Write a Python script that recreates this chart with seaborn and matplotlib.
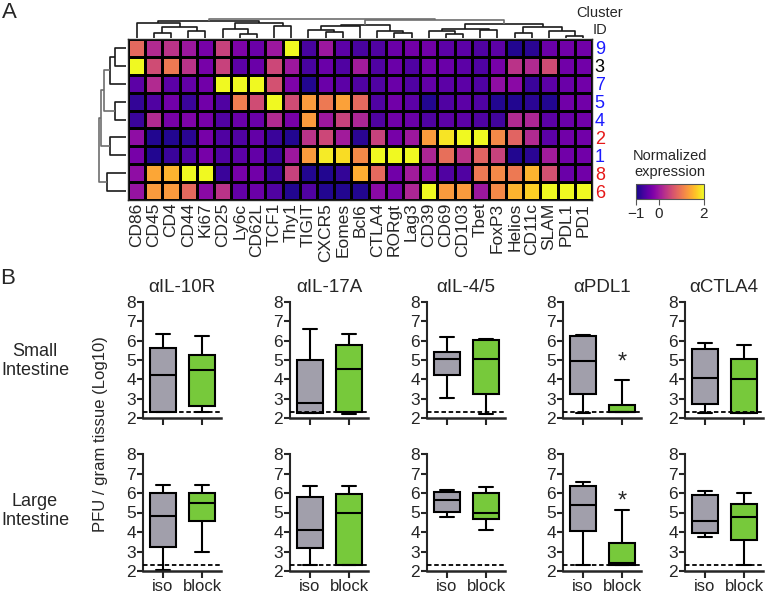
import numpy as np
import pandas as pd
import matplotlib
matplotlib.use("Agg")
import matplotlib.pyplot as plt
import seaborn as sns

# ---- panel A data ----
markers = ["CD86", "CD45", "CD4", "CD44", "Ki67", "CD25", "Ly6c", "CD62L", "TCF1", "Thy1",
           "TIGIT", "CXCR5", "Eomes", "Bcl6", "CTLA4", "RORgt", "Lag3", "CD39", "CD69",
           "CD103", "Tbet", "FoxP3", "Helios", "CD11c", "SLAM", "PDL1", "PD1"]
clusters = ["9", "3", "7", "5", "4", "2", "1", "8", "6"]
cluster_colors = ["blue", "black", "blue", "blue", "blue", "red", "blue", "red", "red"]

row_9 = [0.85, 0.2, 0.3, 0.0, -0.3, 0.45, -0.25, -0.4, 0.0, 2.0, -0.65, 0.0, -0.5, -0.65,
         -0.6, -0.4, -0.35, -0.35, -0.5, -0.5, -0.6, -0.5, -0.9, -0.85, -0.4, -0.35, -0.35]
row_3 = [2.0, 0.55, 1.0, 0.3, -0.3, 0.45, -0.5, -0.4, 0.5, 0.0, -0.65, -0.4, -0.6, 0.05,
         -0.6, -0.4, -0.6, -0.35, -0.4, -0.5, -0.6, -0.3, 0.3, 0.2, 0.55, -0.35, -0.35]
row_7 = [-0.5, 0.2, -0.5, -0.45, -0.35, 2.0, 2.0, 2.0, 0.6, -0.25, -0.9, -0.4, -0.5, -0.6,
         -0.6, -0.4, -0.6, -0.45, -0.5, -0.5, -0.6, -0.1, -0.15, -0.75, -0.5, -0.4, -0.35]
row_5 = [-0.8, -0.6, -0.35, -0.75, -0.35, -0.6, 1.05, 0.55, 2.0, 0.55, 1.3, 1.0, 1.35, 0.85,
         -0.6, -0.35, -0.5, -0.9, -0.6, -0.5, -0.6, -0.9, -0.9, -0.85, -0.9, -0.35, -0.35]
row_4 = [-0.75, 0.2, -0.3, -0.25, -0.3, -0.6, -0.4, -0.4, 0.2, -0.3, 1.3, 0.0, 0.45, 0.15,
         -0.6, -0.35, -0.4, -0.6, -0.5, -0.5, -0.6, -0.7, 0.2, 0.15, -0.5, -0.4, -0.35]
row_2 = [-0.1, -0.9, -0.9, -0.85, -0.3, -0.6, -0.6, -0.45, -0.75, -0.9, 0.3, 0.5, 0.05, -0.85,
         0.45, -0.3, 0.0, 1.3, 1.85, 2.0, 2.0, 1.15, 0.8, 0.2, -0.5, -0.35, -0.35]
row_1 = [-0.3, -0.9, -0.75, -0.6, -0.3, -0.6, -0.5, -0.45, -0.75, 0.0, 1.3, 1.9, 1.8, 1.15,
         2.0, 2.0, 2.0, 0.15, 0.9, 0.3, 0.8, 0.45, -0.9, -0.85, 0.05, -0.35, -0.35]
row_8 = [-0.1, 1.4, 1.5, 2.0, 2.0, -0.75, -0.3, -0.35, -0.75, 0.45, -0.9, -0.9, -0.8, 1.45,
         0.85, -0.35, 0.05, -0.15, -0.6, -0.6, 1.0, 1.15, 1.0, 1.5, 0.6, -0.4, -0.35]
row_6 = [-0.05, 1.3, 1.3, 0.85, -0.15, 0.3, -0.45, -0.4, -0.6, -0.9, -0.6, -0.9, -0.9, -0.9,
         -0.15, -0.3, 0.15, 2.0, 1.3, 1.3, 0.0, 1.15, 1.5, 1.7, 2.0, 2.0, 2.0]
expr = [row_9, row_3, row_7, row_5, row_4, row_2, row_1, row_8, row_6]

# dendrograms: (left, right, merge height)
col_left = (("CD86", (("CD45", "CD4", 6), ("CD44", "Ki67", 7.7), 12), 16),
            (("CD25", ("Ly6c", "CD62L", 5), 10), ("TCF1", "Thy1", 12.7), 16), 17.7)
col_mid = ((("TIGIT", ("CXCR5", "Eomes", 6.7), 8.7), "Bcl6", 13.3),
           ("CTLA4", ("RORgt", "Lag3", 6), 7.7), 14.3)
col_right = ((("CD39", ("CD69", "CD103", 5), 7.7), ("Tbet", "FoxP3", 9.3), 10.5),
             (("Helios", "CD11c", 6), ("SLAM", ("PDL1", "PD1", 3.3), 7.7), 12), 15.3)
col_tree = (col_left, (col_mid, col_right, 19.3), 20.5)
row_tree = ((((("9", "3", 13), "7", 18), ("5", "4", 13), 23.5), ("2", "1", 18), 26.5),
            ("8", "6", 21), 28.5)

# ---- panel B data: min, q1, median, q3, max ----
treatments = ["αIL-10R", "αIL-17A", "αIL-4/5", "αPDL1", "αCTLA4"]
small_iso = [[2.3, 2.3, 4.2, 5.62, 6.33], [2.28, 2.28, 2.75, 5.02, 6.62],
             [3.05, 4.23, 5.03, 5.43, 6.2], [2.28, 3.22, 4.95, 6.22, 6.3],
             [2.25, 2.72, 4.07, 5.58, 5.9]]
small_block = [[2.32, 2.63, 4.5, 5.25, 6.25], [2.2, 2.3, 4.52, 5.78, 6.32],
               [2.2, 3.23, 5.07, 6.04, 6.08], [2.3, 2.3, 2.3, 2.68, 3.95],
               [2.25, 2.25, 4.0, 5.05, 5.77]]
large_iso = [[2.05, 3.21, 4.83, 6.0, 6.43], [2.3, 3.2, 4.1, 5.8, 6.35],
             [4.78, 5.03, 5.62, 6.05, 6.15], [2.3, 4.03, 5.38, 6.35, 6.55],
             [3.72, 3.97, 4.55, 5.9, 6.08]]
large_block = [[3.0, 4.55, 5.5, 6.0, 6.4], [2.3, 2.3, 5.0, 5.97, 6.38],
               [4.1, 4.65, 4.98, 6.0, 6.3], [2.3, 2.3, 2.42, 3.42, 5.13],
               [2.3, 3.6, 4.78, 5.45, 6.02]]
sites = ["Small\nIntestine", "Large\nIntestine"]
star_y = {("Small\nIntestine", "αPDL1"): 5.15, ("Large\nIntestine", "αPDL1"): 5.85}
detection_limit = 2.3

records = []
for site, iso, block in [(sites[0], small_iso, small_block), (sites[1], large_iso, large_block)]:
    for t, a, b in zip(treatments, iso, block):
        records += [(site, t, "iso", v) for v in a]
        records += [(site, t, "block", v) for v in b]
pfu = pd.DataFrame(records, columns=["site", "treatment", "group", "value"])

W, H = 765, 597
sns.set_style("white")
plt.rcParams["font.family"] = ["Liberation Sans", "DejaVu Sans"]
fig = plt.figure(figsize=(W / 100, H / 100), dpi=100)


def px(x0, y0, x1, y1):
    return [x0 / W, 1 - y1 / H, (x1 - x0) / W, (y1 - y0) / H]


# ---- heatmap ----
hax = fig.add_axes(px(128, 39, 592, 200))
cax = fig.add_axes(px(636, 184, 704, 199))
df = pd.DataFrame(expr, index=clusters, columns=markers)
sns.heatmap(df, cmap="plasma", vmin=-1, vmax=2, linewidths=0.8, linecolor="black",
            ax=hax, cbar_ax=cax,
            cbar_kws={"orientation": "horizontal", "ticks": [-1, 0, 2]})
for sp in hax.spines.values():
    sp.set_visible(True)
    sp.set_linewidth(1.0)
hax.set_xticks(np.arange(len(markers)) + 0.5)
hax.set_xticklabels(markers, rotation=90, fontsize=12.5)
hax.yaxis.tick_right()
hax.set_yticks(np.arange(len(clusters)) + 0.5)
hax.set_yticklabels(clusters, rotation=0, fontsize=13)
for lab, c in zip(hax.get_yticklabels(), cluster_colors):
    lab.set_color({"blue": "#1a1aff", "red": "#e61717", "black": "black"}[c])
hax.tick_params(length=0, pad=2)
hax.set_xlabel("")
hax.set_ylabel("")

cbar = hax.collections[0].colorbar
cbar.outline.set_edgecolor("#555555")
cbar.outline.set_linewidth(0.8)
cax.set_xticklabels(["\u22121", "0", "2"])
cax.tick_params(labelsize=11, length=4, width=0.8, pad=2, color="#555555")
fig.text(670 / W, 1 - 164 / H, "Normalized\nexpression", ha="center", va="center", fontsize=10.5)
fig.text(600 / W, 1 - 13 / H, "Cluster", ha="center", va="center", fontsize=10.5)
fig.text(600 / W, 1 - 30 / H, "ID", ha="center", va="center", fontsize=10.5)


def draw_tree(ax, node, pos, vertical, gray_from):
    if isinstance(node, str):
        return pos[node], 1.5
    a, b, h = node
    xa, ha = draw_tree(ax, a, pos, vertical, gray_from)
    xb, hb = draw_tree(ax, b, pos, vertical, gray_from)
    xs = [xa, xa, xb, xb]
    hs = [ha, h, h, hb]
    col = "#6e6e6e" if h >= gray_from else "#1a1a1a"
    if vertical:
        ax.plot(xs, hs, color=col, lw=1.2, solid_capstyle="butt")
    else:
        ax.plot(hs, xs, color=col, lw=1.2, solid_capstyle="butt")
    return (xa + xb) / 2, h


dax = fig.add_axes(px(128, 14, 592, 39))
draw_tree(dax, col_tree, {m: i + 0.5 for i, m in enumerate(markers)}, True, 19)
dax.set_xlim(0, len(markers))
dax.set_ylim(0, 25)
dax.axis("off")

rax = fig.add_axes(px(98, 39, 128, 200))
draw_tree(rax, row_tree, {c: i + 0.5 for i, c in enumerate(clusters)}, False, 23)
rax.set_xlim(30, 0)
rax.set_ylim(len(clusters), 0)
rax.axis("off")

# ---- box plots ----
pan_left = [143, 290, 427, 563, 685]
row_y = [(302, 418), (454, 571)]
palette = {"iso": "#a19fab", "block": "#77c93b"}

for r, site in enumerate(sites):
    y0, y1 = row_y[r]
    for j, t in enumerate(treatments):
        ax = fig.add_axes(px(pan_left[j], y0, pan_left[j] + 78, y1))
        sub = pfu[(pfu.site == site) & (pfu.treatment == t)]
        sns.boxplot(data=sub, x="group", y="value", hue="group", order=["iso", "block"],
                    hue_order=["iso", "block"], palette=palette, saturation=1,
                    whis=(0, 100), width=0.67, linewidth=1.5, linecolor="black",
                    legend=False, ax=ax)
        ax.set_xlim(-0.513, 1.487)
        ax.set_ylim(2, 8)
        ax.axhline(detection_limit, color="black", lw=1.3, ls=(0, (2.5, 1.5)), zorder=5)
        sns.despine(ax=ax)
        ax.spines["left"].set_linewidth(1.5)
        ax.spines["bottom"].set_linewidth(1.8)
        ax.set_yticks(range(2, 9))
        ax.tick_params(axis="y", left=True, length=4, width=1.5, labelsize=12.5, pad=1)
        ax.tick_params(axis="x", bottom=True, length=5, width=1.5, labelsize=12, pad=1)
        ax.set_xticks([0, 1])
        if r == 1:
            ax.set_xticklabels(["iso", "block"])
        else:
            ax.set_xticklabels([])
            ax.set_title(t, fontsize=13.5, pad=7)
        ax.set_xlabel("")
        ax.set_ylabel("")
        if (site, t) in star_y:
            ax.text(1, star_y[(site, t)] - 0.3, "*", ha="center", va="center", fontsize=17)
    fig.text(35 / W, 1 - (361 if r == 0 else 511) / H, site, ha="center", va="center",
             fontsize=13)

fig.text(100 / W, 1 - 434 / H, "PFU / gram tissue (Log10)", rotation=90, ha="center",
         va="center", fontsize=12)
fig.text(9 / W, 1 - 13 / H, "A", ha="center", va="center", fontsize=16)
fig.text(8 / W, 1 - 279 / H, "B", ha="center", va="center", fontsize=16)

fig.savefig("out.png", dpi=100)
